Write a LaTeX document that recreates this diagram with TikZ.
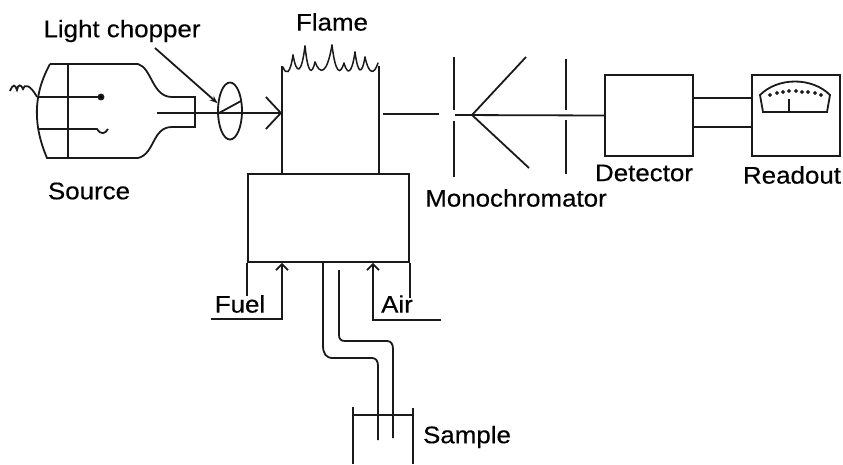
\documentclass[tikz,border=0pt]{standalone}
\usepackage{fontspec}
\setmainfont[FakeStretch=1.08,FakeBold=0.35]{Liberation Sans}
\usetikzlibrary{arrows.meta,shapes.geometric,calc}
\definecolor{inkclr}{HTML}{1a1a1a}

\begin{document}
\begin{tikzpicture}[
  x=1pt, y=-1pt,
  font=\fontsize{24}{28}\selectfont,
  every path/.style={draw=inkclr, line width=1.8pt},
  unit/.style={draw=inkclr, line width=1.8pt, inner sep=0pt},
  label/.style={draw=none, text=black, inner sep=0pt, anchor=center},
  beam/.style={-{Straight Barb[length=15pt, width=32pt, line width=1.8pt]}},
  gasarrow/.style={-{Straight Barb[length=6pt, width=12pt, line width=1.8pt]}},
  pointer/.style={-{Stealth[length=8pt, width=6pt]}},
]
\useasboundingbox[draw=none] (0,0) rectangle (843,464);

% Labels
\node[label] (lblchopper) at (122,31) {Light chopper};
\node[label] (lblsource)  at (89,191) {Source};
\node[label] (lblflame)   at (332,22) {Flame};
\node[label] (lblmono)    at (516,198) {Monochromator};
\node[label] (lbldetect)  at (644,173) {Detector};
\node[label] (lblreadout) at (792,175) {Readout};
\node[label] (lblfuel)    at (240,304) {Fuel};
\node[label] (lblair)     at (397,304) {Air};
\node[label] (lblsample)  at (467,437) {Sample};

% Source lamp
\draw (50,64) -- (138,64) .. controls (152,68) and (152,97) .. (172,97) -- (195,97) -- (195,127)
  -- (172,127) .. controls (152,127) and (155,154) .. (138,158) -- (47,158)
  .. controls (33,125) and (33,95) .. (50,64);
\draw (68,64) -- (68,158);
\coordinate (pin1) at (101,97);
\coordinate (pin2) at (97,129);
\coordinate (lampout) at (157,113);
\draw (37,97) -- (pin1);
\fill (pin1) circle (2.5pt);
\draw (38,129) -- (pin2) .. controls (101,135) and (105,134) .. (108,129);
\draw (10,91) .. controls (13,84) and (15,84) .. (17,90) .. controls (18,84) and (21,84) .. (23,89)
  .. controls (24,84) and (30,84) .. (37,97);

% Light chopper
\node[ellipse, unit, minimum width=24pt, minimum height=57pt] (chopper) at (230,111) {};
\draw (219,113) -- (241,101);
\coordinate (pointstart) at (155,48);
\draw[pointer] (pointstart) -- (chopper.148);

% Flame
\node[inner sep=0pt, draw=none, minimum width=95pt, minimum height=107pt] (flamebox) at (330.5,120.5) {};
\draw (flamebox.north west) -- (flamebox.south west);
\draw (flamebox.north east) -- (flamebox.south east);
\draw[beam] (lampout) -- (flamebox.west |- lampout);
\foreach \xa/\ya/\xb/\yb in {283/67/293/55, 293/55/305/46, 305/46/315/62, 315/62/332/45,
                             332/45/344/63, 344/63/355/52, 355/52/365/57, 365/57/378/63}
  \draw[line width=1.5pt, line cap=round] (\xa,\ya) .. controls ({\xa*.7+\xb*.3},75) and ({\xa*.3+\xb*.7},75) .. (\xb,\yb);

% Burner
\node[unit, rectangle, minimum width=161pt, minimum height=88pt] (burner) at (328.5,218) {};
\draw (burner.south west) -- ++(0,33);
\draw (burner.south east) -- ++(0,35);

% Fuel and air
\coordinate (fuelin) at (211,319);
\coordinate (airin) at (441,320);
\draw[gasarrow] (fuelin) -| (burner.south west -| 282,0);
\draw[gasarrow] (airin) -| (burner.south west -| 373,0);

% Monochromator
\coordinate (slitin) at (439,114);
\coordinate (mirror) at (472,115);
\draw (flamebox.east |- slitin) ++(4,0) -- (slitin);
\draw (454,57) -- (454,110);
\draw (454,121) -- (454,177);
\draw (566,59) -- (566,110);
\draw (566,120) -- (566,174);
\draw (526,57) -- (mirror) -- (529,168);

% Detector and readout
\node[unit, rectangle, minimum width=88pt, minimum height=81pt] (detector) at (649,115.5) {};
\node[unit, rectangle, minimum width=88pt, minimum height=81pt] (readout) at (796,115.5) {};
\draw (455,115) -- (detector.west);
\draw (detector.east |- 0,98) -- (readout.west |- 0,98);
\draw (detector.east |- 0,127) -- (readout.west |- 0,127);

% Meter
\coordinate (needle) at (789,112);
\draw (763,112) -- (827,112) -- (830,95) .. controls (812,77) and (778,77) .. (760,95) -- cycle;
\draw (needle) -- (789,99);
\foreach \tx/\ty in {770/95, 777/93, 783/92, 789/91, 796/91, 802/92, 808/92, 815/93, 821/95}
  \fill (\tx,\ty) circle (0.9pt);

% Sample line
\coordinate (tubea) at (378,440);
\coordinate (tubeb) at (393,438);
\draw (burner.south west -| 323,0) -- (323,345) .. controls (323,354) and (326,358) .. (333,358)
  -- (372,358) .. controls (376,358) and (378,361) .. (378,366) -- (tubea);
\draw (339,270) -- (339,335) .. controls (339,339) and (341,341) .. (345,341)
  -- (387,341) .. controls (391,341) and (393,344) .. (393,349) -- (tubeb);

% Sample beaker
\draw (353,407) -- (353,464);
\draw (413,408) -- (413,464);
\draw (353,415) -- (413,415);

\end{tikzpicture}
\end{document}
